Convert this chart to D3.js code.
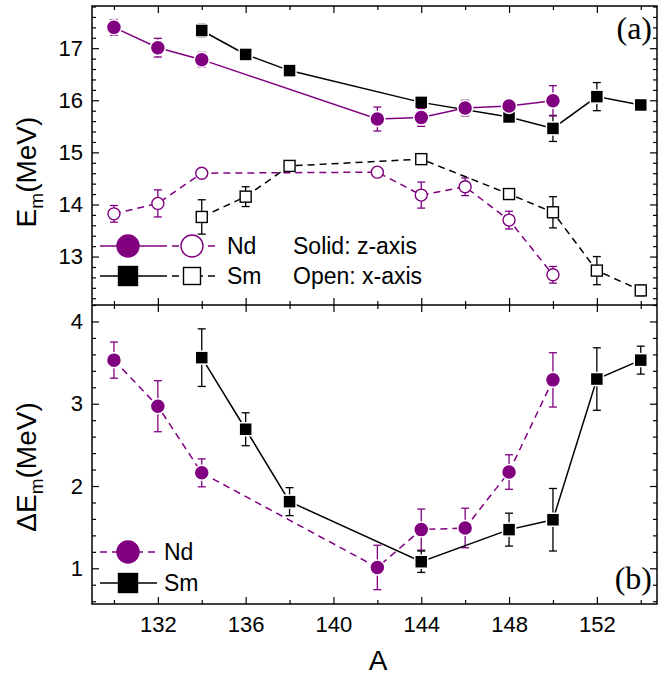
<!DOCTYPE html>
<html>
<head>
<meta charset="utf-8">
<script src="https://cdn.jsdelivr.net/npm/d3@7"></script>
<style>
  body { margin: 0; background: #fff; }
  svg { display: block; font-family: "Liberation Sans", Arial, sans-serif; }
  .axis path { stroke: #000; stroke-width: 1.5; }
  .axis line { stroke: #000; stroke-width: 1.2; }
  .axis text { font-size: 22px; fill: #000; font-family: "Liberation Sans", Arial, sans-serif; }
</style>
</head>
<body>
<div id="chart"></div>
<script>
const W = 659, H = 686;
const purple = "#800080";

// mass numbers
const massNd = [130, 132, 134, 142, 144, 146, 148, 150];
const massSm = [134, 136, 138, 144, 148, 150, 152, 154];

// panel (a): E_m, solid = z-axis, open = x-axis
const ndZ = [17.40, 17.01, 16.78, 15.64, 15.67, 15.85, 15.89, 15.99];
const ndZErr = [0.15, 0.18, 0.14, 0.23, 0.17, 0.15, 0.10, 0.29];
const ndX = [13.82, 14.02, 14.60, 14.62, 14.18, 14.34, 13.70, 12.65];
const ndXErr = [0.16, 0.26, 0.05, 0.08, 0.25, 0.17, 0.17, 0.16];
const smZ = [17.34, 16.88, 16.57, 15.96, 15.68, 15.46, 16.07, 15.91];
const smZErr = [0.13, 0.05, 0.05, 0.05, 0.12, 0.25, 0.27, 0.05];
const smX = [13.76, 14.15, 14.74, 14.87, 14.20, 13.85, 12.73, 12.35];
const smXErr = [0.33, 0.19, 0.08, 0.07, 0.10, 0.30, 0.27, 0.10];

// panel (b): Delta E_m
const ndDE = [3.53, 2.97, 2.16, 1.01, 1.47, 1.49, 2.17, 3.29];
const ndDEErr = [0.22, 0.31, 0.17, 0.27, 0.25, 0.24, 0.21, 0.33];
const smDE = [3.56, 2.69, 1.81, 1.08, 1.47, 1.59, 3.30, 3.53];
const smDEErr = [0.35, 0.20, 0.17, 0.13, 0.20, 0.38, 0.38, 0.17];

const xMajor = [132, 136, 140, 144, 148, 152];
const xMinor = [130, 134, 138, 142, 146, 150, 154];
const yTopMajor = [13, 14, 15, 16, 17];
const yBotMajor = [1, 2, 3, 4];

const pLeft = 92, pRight = 657, pTop = 6, pMid = 305, pBottom = 604;

const svg = d3.select("#chart").append("svg")
  .attr("width", W).attr("height", H);

const x = d3.scaleLinear().domain([129, 154.74]).range([pLeft, pRight]);
const yTop = d3.scaleLinear().domain([12.07, 17.81]).range([pMid, pTop]);
const yBot = d3.scaleLinear().domain([0.566, 4.2]).range([pBottom, pMid]);

function minorTicks(scale, step) {
  const [a, b] = scale.domain();
  const out = [];
  for (let v = Math.ceil(a / step) * step; v <= b + 1e-9; v += step) {
    const r = Math.round(v * 10) / 10;
    if (Math.abs(r - Math.round(r)) > 1e-6) out.push(r);
  }
  return out;
}

function frame(y, y0, y1, major, showX) {
  // left
  svg.append("g").attr("class", "axis").attr("transform", `translate(${pLeft},0)`)
    .call(d3.axisLeft(y).tickValues(major).tickFormat(d3.format("d")).tickSize(-7).tickPadding(9));
  svg.append("g").attr("class", "axis").attr("transform", `translate(${pLeft},0)`)
    .call(d3.axisLeft(y).tickValues(minorTicks(y, 0.2)).tickFormat("").tickSize(-4));
  // right
  svg.append("g").attr("class", "axis").attr("transform", `translate(${pRight},0)`)
    .call(d3.axisRight(y).tickValues(major).tickFormat("").tickSize(-7));
  svg.append("g").attr("class", "axis").attr("transform", `translate(${pRight},0)`)
    .call(d3.axisRight(y).tickValues(minorTicks(y, 0.2)).tickFormat("").tickSize(-4));
  // top
  svg.append("g").attr("class", "axis").attr("transform", `translate(0,${y1})`)
    .call(d3.axisTop(x).tickValues(xMajor).tickFormat("").tickSize(-7));
  svg.append("g").attr("class", "axis").attr("transform", `translate(0,${y1})`)
    .call(d3.axisTop(x).tickValues(xMinor).tickFormat("").tickSize(-4));
  // bottom
  svg.append("g").attr("class", "axis").attr("transform", `translate(0,${y0})`)
    .call(d3.axisBottom(x).tickValues(xMajor).tickFormat(showX ? d3.format("d") : "").tickSize(-7).tickPadding(12));
  svg.append("g").attr("class", "axis").attr("transform", `translate(0,${y0})`)
    .call(d3.axisBottom(x).tickValues(xMinor).tickFormat("").tickSize(-4));
}

frame(yTop, pMid, pTop, yTopMajor, false);
frame(yBot, pBottom, pMid, yBotMajor, true);
svg.selectAll(".axis .domain").remove();
svg.append("rect").attr("x", pLeft).attr("y", pTop).attr("width", pRight - pLeft).attr("height", pBottom - pTop)
  .attr("fill", "none").attr("stroke", "#000").attr("stroke-width", 1.5);
svg.append("line").attr("x1", pLeft).attr("x2", pRight).attr("y1", pMid).attr("y2", pMid)
  .attr("stroke", "#000").attr("stroke-width", 1.5);

function series(xs, ys, errs, y, opt) {
  const g = svg.append("g");
  const pts = xs.map((a, i) => ({ a: a, v: ys[i], e: errs[i] }));
  const line = d3.line().x(d => x(d.a)).y(d => y(d.v));
  g.append("path").attr("d", line(pts)).attr("fill", "none")
    .attr("stroke", opt.color).attr("stroke-width", 1.5)
    .attr("stroke-dasharray", opt.dashed ? "7,5" : null);
  const eb = g.selectAll(".eb").data(pts).enter().append("g")
    .attr("stroke", opt.color).attr("stroke-width", 1.3);
  eb.append("line").attr("x1", d => x(d.a)).attr("x2", d => x(d.a))
    .attr("y1", d => y(d.v - d.e)).attr("y2", d => y(d.v + d.e));
  eb.append("line").attr("x1", d => x(d.a) - 4).attr("x2", d => x(d.a) + 4)
    .attr("y1", d => y(d.v - d.e)).attr("y2", d => y(d.v - d.e));
  eb.append("line").attr("x1", d => x(d.a) - 4).attr("x2", d => x(d.a) + 4)
    .attr("y1", d => y(d.v + d.e)).attr("y2", d => y(d.v + d.e));
  const fill = opt.open ? "#fff" : opt.color;
  if (opt.shape === "circle") {
    g.selectAll(".m").data(pts).enter().append("circle")
      .attr("cx", d => x(d.a)).attr("cy", d => y(d.v)).attr("r", opt.size)
      .attr("fill", fill).attr("stroke", opt.open ? opt.color : "#fff")
      .attr("stroke-width", opt.open ? 1.4 : 1.5);
  } else {
    g.selectAll(".m").data(pts).enter().append("rect")
      .attr("x", d => x(d.a) - opt.size).attr("y", d => y(d.v) - opt.size)
      .attr("width", opt.size * 2).attr("height", opt.size * 2)
      .attr("fill", fill).attr("stroke", opt.open ? opt.color : "#fff")
      .attr("stroke-width", opt.open ? 1.4 : 1.5);
  }
}

// panel (a)
series(massNd, ndX, ndXErr, yTop, { color: purple, dashed: true, open: true, shape: "circle", size: 6 });
series(massSm, smX, smXErr, yTop, { color: "#000", dashed: true, open: true, shape: "rect", size: 5.5 });
series(massSm, smZ, smZErr, yTop, { color: "#000", dashed: false, open: false, shape: "rect", size: 6.5 });
series(massNd, ndZ, ndZErr, yTop, { color: purple, dashed: false, open: false, shape: "circle", size: 7.5 });
// panel (b)
series(massNd, ndDE, ndDEErr, yBot, { color: purple, dashed: true, open: false, shape: "circle", size: 7.5 });
series(massSm, smDE, smDEErr, yBot, { color: "#000", dashed: false, open: false, shape: "rect", size: 6.5 });

// legends
function legendRow(yy, color, shape, label, withOpen) {
  const g = svg.append("g");
  g.append("line").attr("x1", 100).attr("x2", withOpen ? 160 : 157).attr("y1", yy).attr("y2", yy)
    .attr("stroke", color).attr("stroke-width", 1.5)
    .attr("stroke-dasharray", (!withOpen && color === purple) ? "7,5" : null);
  if (withOpen) {
    g.append("line").attr("x1", 160).attr("x2", 220).attr("y1", yy).attr("y2", yy)
      .attr("stroke", color).attr("stroke-width", 1.5).attr("stroke-dasharray", "7,5");
  }
  const sym = (cx, open, s) => {
    if (shape === "circle") {
      g.append("circle").attr("cx", cx).attr("cy", yy).attr("r", s)
        .attr("fill", open ? "#fff" : color).attr("stroke", color).attr("stroke-width", 1.4);
    } else {
      g.append("rect").attr("x", cx - s).attr("y", yy - s).attr("width", 2 * s).attr("height", 2 * s)
        .attr("fill", open ? "#fff" : color).attr("stroke", color).attr("stroke-width", 1.4);
    }
  };
  sym(128, false, shape === "circle" ? 11 : 9.5);
  if (withOpen) sym(192, true, shape === "circle" ? 11 : 8.5);
  g.append("text").attr("x", withOpen ? 227 : 164).attr("y", yy + 8)
    .attr("font-size", 23).text(label);
}
legendRow(246, purple, "circle", "Nd", true);
legendRow(276, "#000", "rect", "Sm", true);
svg.append("text").attr("x", 293).attr("y", 254).attr("font-size", 23).text("Solid: z-axis");
svg.append("text").attr("x", 293).attr("y", 284).attr("font-size", 23).text("Open: x-axis");
legendRow(552, purple, "circle", "Nd", false);
legendRow(583, "#000", "rect", "Sm", false);

// panel tags
svg.append("text").attr("x", 652).attr("y", 39).attr("text-anchor", "end")
  .attr("font-family", "'Liberation Serif', 'Times New Roman', serif").attr("font-size", 32).text("(a)");
svg.append("text").attr("x", 652).attr("y", 589).attr("text-anchor", "end")
  .attr("font-family", "'Liberation Serif', 'Times New Roman', serif").attr("font-size", 32).text("(b)");

// axis titles
const t1 = svg.append("text").attr("transform", `translate(36,${172}) rotate(-90)`)
  .attr("text-anchor", "middle").attr("font-size", 28);
t1.append("tspan").text("E");
t1.append("tspan").attr("font-size", 19).attr("dy", 7).text("m");
t1.append("tspan").attr("dy", -7).text("(MeV)");
const t2 = svg.append("text").attr("transform", `translate(36,${467}) rotate(-90)`)
  .attr("text-anchor", "middle").attr("font-size", 28);
t2.append("tspan").text("\u0394E");
t2.append("tspan").attr("font-size", 19).attr("dy", 7).text("m");
t2.append("tspan").attr("dy", -7).text("(MeV)");
svg.append("text").attr("x", 378).attr("y", 670).attr("text-anchor", "middle")
  .attr("font-size", 28).text("A");
</script>
</body>
</html>
